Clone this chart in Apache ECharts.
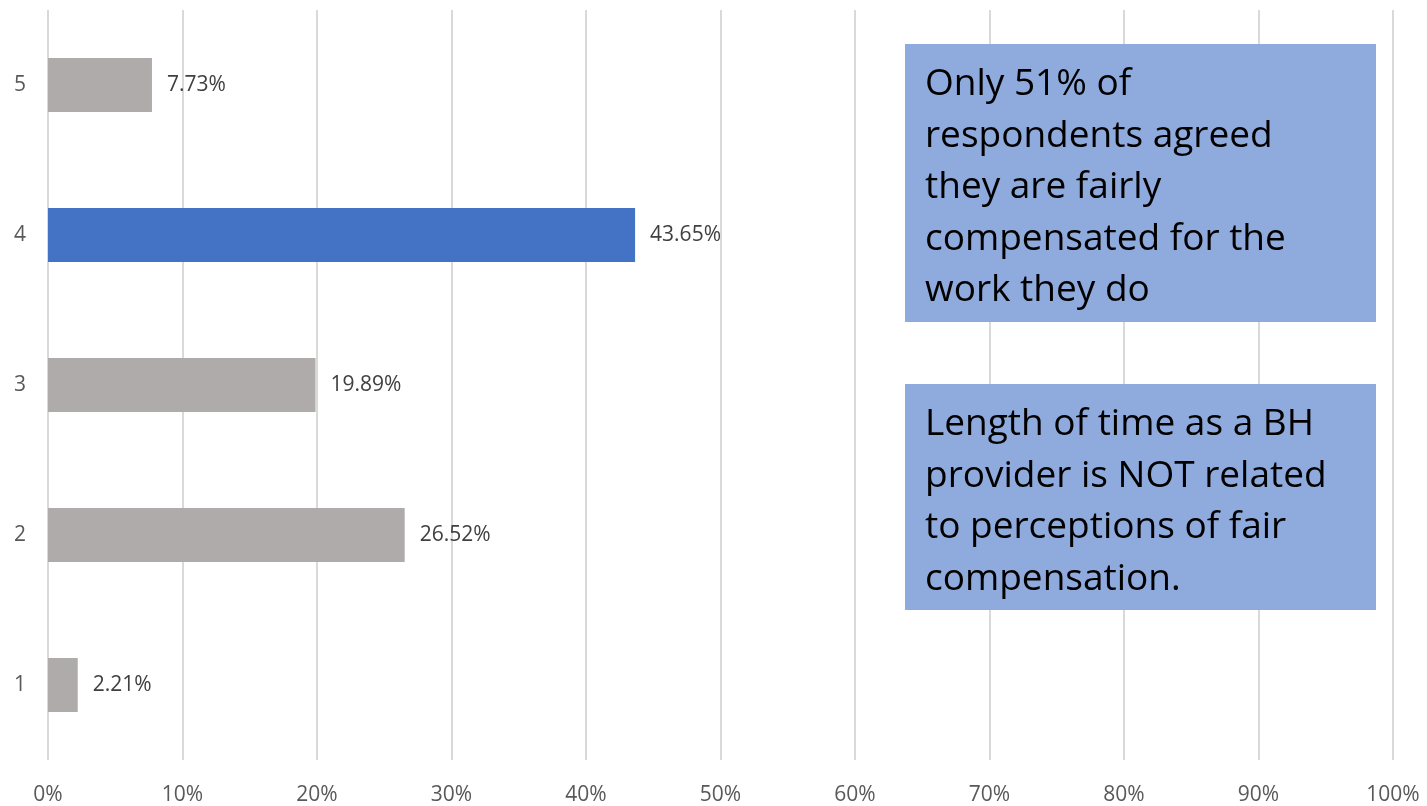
<!DOCTYPE html>
<html>
<head>
<meta charset="utf-8">
<script src="https://cdn.jsdelivr.net/npm/echarts@6/dist/echarts.min.js"></script>
<style>
  html, body { margin: 0; padding: 0; background: #ffffff; }
  #chart { width: 1427px; height: 806px; }
</style>
</head>
<body>
<div id="chart"></div>
<script>
// Survey response levels (bottom to top) and share of respondents, in percent
const categories = ['1', '2', '3', '4', '5'];
const shares = [2.21, 26.52, 19.89, 43.65, 7.73];
const highlightCategory = '4';
const xTicks = [0, 10, 20, 30, 40, 50, 60, 70, 80, 90, 100];

const noteTop = 'Only 51% of\nrespondents agreed\nthey are fairly\ncompensated for the\nwork they do';
const noteBottom = 'Length of time as a BH\nprovider is NOT related\nto perceptions of fair\ncompensation.';

const FONT = '"Open Sans", "Noto Sans", sans-serif';
const GREY = '#AFABAB';
const BLUE = '#4472C4';
const BOX = '#8FAADC';

const chart = echarts.init(document.getElementById('chart'), null, { renderer: 'canvas' });

// Callout box drawn over the plot (covers the grid lines behind it)
const noteBox = (top, height, text) => ({
  type: 'group',
  left: 905,
  top: top,
  z: 100,
  children: [
    { type: 'rect', z: 100, shape: { x: 0, y: 0, width: 471, height: height }, style: { fill: BOX } },
    {
      type: 'text',
      z: 101,
      x: 20,
      y: 15,
      style: {
        text: text,
        font: '37px ' + FONT,
        lineHeight: 51.5,
        fill: '#000000',
        verticalAlign: 'top'
      }
    }
  ]
});

chart.setOption({
  animation: false,
  backgroundColor: '#ffffff',
  grid: { left: 48, right: 34, top: 10, bottom: 43, containLabel: false },
  xAxis: {
    type: 'value',
    min: 0,
    max: 100,
    interval: 10,
    axisLine: { show: false },
    axisTick: { show: false },
    splitLine: { show: true, lineStyle: { color: '#D9D9D9', width: 2 } },
    axisLabel: {
      margin: 25,
      color: '#595959',
      fontFamily: FONT,
      fontSize: 21,
      formatter: v => (xTicks.includes(v) ? v + '%' : '')
    }
  },
  yAxis: {
    type: 'category',
    data: categories,
    axisLine: { show: false },
    axisTick: { show: false },
    axisLabel: { margin: 22, color: '#595959', fontFamily: FONT, fontSize: 21 }
  },
  series: [{
    type: 'bar',
    barWidth: 54,
    data: shares.map((v, i) => ({
      value: v,
      itemStyle: { color: categories[i] === highlightCategory ? BLUE : GREY }
    })),
    label: {
      show: true,
      position: 'right',
      distance: 15,
      color: '#404040',
      fontFamily: FONT,
      fontSize: 21,
      formatter: p => p.value.toFixed(2) + '%'
    }
  }],
  graphic: [
    noteBox(44, 278, noteTop),
    noteBox(384, 226, noteBottom)
  ]
});
</script>
</body>
</html>
